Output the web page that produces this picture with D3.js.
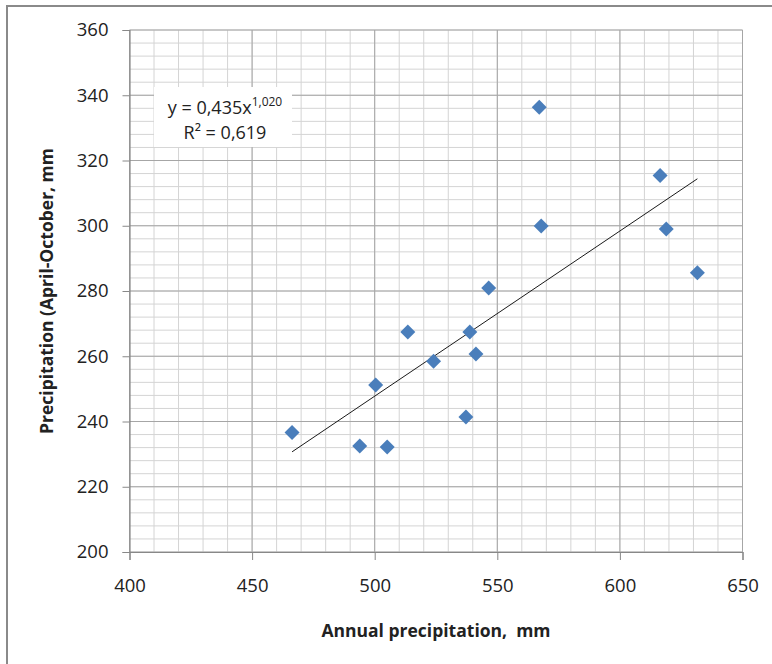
<!DOCTYPE html>
<html>
<head>
  <meta charset="utf-8">
  <style>
    body { margin: 0; background: #fff; }
    text { font-family: "Open Sans", sans-serif; fill: #222; }
  </style>
</head>
<body>
  <script src="https://cdn.jsdelivr.net/npm/d3@7"></script>
  <script>
    // annual precipitation (x) vs april-october precipitation (y), mm
    var annual = [466.3, 493.9, 505.1, 500.4, 513.5, 524.0, 538.8, 541.3, 537.2, 546.5, 567.1, 567.9, 616.4, 618.9, 631.6];
    var season = [236.6, 232.5, 232.2, 251.2, 267.4, 258.5, 267.4, 260.7, 241.4, 280.9, 336.3, 299.9, 315.4, 299.0, 285.6];
    // trend line ends as drawn on the chart
    var trendX = [466.3, 631.6];
    var trendY = [230.7, 314.4];
    var xTicks = [400, 450, 500, 550, 600, 650];
    var yTicks = [200, 220, 240, 260, 280, 300, 320, 340, 360];
    var eqText = "y = 0,435x";
    var eqExp = "1,020";
    var r2Text = "R² = 0,619";

    var width = 772, height = 664;
    var svg = d3.select("body").append("svg")
      .attr("width", width)
      .attr("height", height);

    // outer chart border (only top + left are visible)
    svg.append("rect")
      .attr("x", 7).attr("y", 6)
      .attr("width", 800).attr("height", 700)
      .attr("fill", "none")
      .attr("stroke", "#8a8a8a")
      .attr("stroke-width", 2);

    var x = d3.scaleLinear().domain([400, 650]).range([129.5, 742.5]);
    var y = d3.scaleLinear().domain([200, 360]).range([552, 30]);

    var grid = svg.append("g");
    // minor grid
    grid.selectAll(".vmin").data(d3.range(400, 651, 10)).enter().append("line")
      .attr("x1", d => x(d)).attr("x2", d => x(d))
      .attr("y1", y(200)).attr("y2", y(360))
      .attr("stroke", "#d4d4d4").attr("stroke-width", 1);
    grid.selectAll(".hmin").data(d3.range(200, 361, 4)).enter().append("line")
      .attr("x1", x(400)).attr("x2", x(650))
      .attr("y1", d => y(d)).attr("y2", d => y(d))
      .attr("stroke", "#d4d4d4").attr("stroke-width", 1);
    // major grid
    grid.selectAll(".vmaj").data(xTicks).enter().append("line")
      .attr("x1", d => x(d)).attr("x2", d => x(d))
      .attr("y1", y(200)).attr("y2", y(360))
      .attr("stroke", "#a6a6a6").attr("stroke-width", 1);
    grid.selectAll(".hmaj").data(yTicks).enter().append("line")
      .attr("x1", x(400)).attr("x2", x(650))
      .attr("y1", d => y(d)).attr("y2", d => y(d))
      .attr("stroke", "#a6a6a6").attr("stroke-width", 1);

    // axes
    var xAxis = svg.append("g")
      .attr("transform", "translate(0," + y(200) + ")")
      .call(d3.axisBottom(x).tickValues(xTicks).tickSize(8).tickPadding(19));
    var yAxis = svg.append("g")
      .attr("transform", "translate(" + x(400) + ",0)")
      .call(d3.axisLeft(y).tickValues(yTicks).tickSize(7).tickPadding(14));
    [xAxis, yAxis].forEach(function (g) {
      g.select(".domain").attr("stroke", "#888").attr("stroke-width", 1.2);
      g.selectAll(".tick line").attr("stroke", "#888");
      g.selectAll(".tick text")
        .attr("font-family", "Open Sans, sans-serif")
        .attr("font-size", 18.5)
        .attr("fill", "#222");
    });

    // equation box
    var eq = svg.append("g");
    eq.append("rect")
      .attr("x", 154).attr("y", 87)
      .attr("width", 138).attr("height", 60)
      .attr("fill", "#fff");
    var t1 = eq.append("text")
      .attr("x", 225).attr("y", 114)
      .attr("text-anchor", "middle")
      .attr("font-size", 18);
    t1.append("tspan").text(eqText);
    t1.append("tspan").text(eqExp).attr("font-size", 12).attr("dy", -8);
    eq.append("text")
      .attr("x", 225).attr("y", 139)
      .attr("text-anchor", "middle")
      .attr("font-size", 18)
      .text(r2Text);

    // trend line
    svg.append("line")
      .attr("x1", x(trendX[0])).attr("y1", y(trendY[0]))
      .attr("x2", x(trendX[1])).attr("y2", y(trendY[1]))
      .attr("stroke", "#1a1a1a").attr("stroke-width", 1);

    // diamonds
    var diamond = d3.symbol().type(d3.symbolSquare).size(112);
    svg.append("g").selectAll("path")
      .data(annual)
      .enter().append("path")
      .attr("d", diamond)
      .attr("transform", (d, i) => "translate(" + x(d) + "," + y(season[i]) + ") rotate(45)")
      .attr("fill", "#4a7ebb");

    // axis titles
    svg.append("text")
      .attr("x", 436).attr("y", 637)
      .attr("text-anchor", "middle")
      .attr("font-weight", "bold")
      .attr("font-size", 17.5)
      .style("white-space", "pre")
      .text("Annual precipitation,  mm");
    svg.append("text")
      .attr("transform", "translate(53,291) rotate(-90)")
      .attr("text-anchor", "middle")
      .attr("font-weight", "bold")
      .attr("font-size", 17.5)
      .text("Precipitation (April-October, mm");
  </script>
</body>
</html>
